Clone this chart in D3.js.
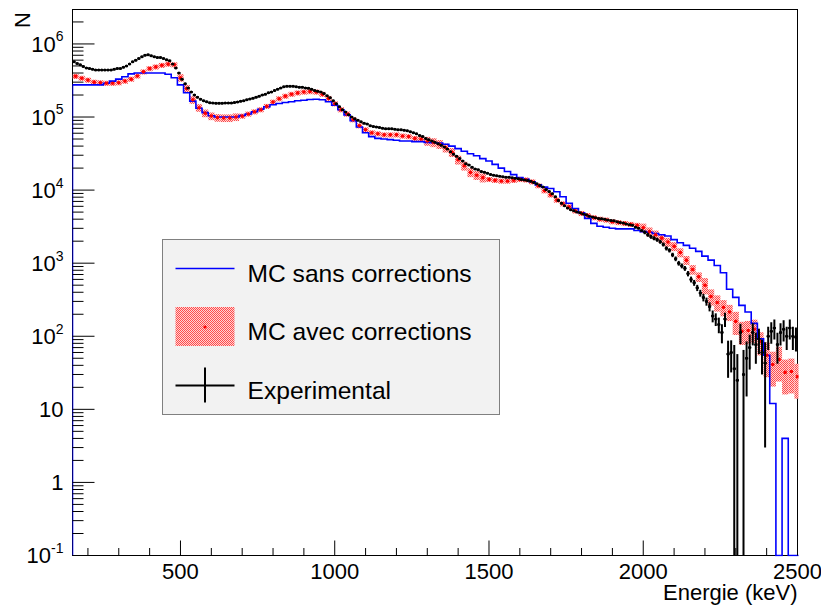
<!DOCTYPE html>
<html>
<head>
<meta charset="utf-8">
<script src="https://cdn.jsdelivr.net/npm/d3@7"></script>
<style>
  body { margin: 0; background: #ffffff; }
  svg { display: block; font-family: "Liberation Sans", Arial, Helvetica, sans-serif; }
</style>
</head>
<body>
<div id="chart"></div>
<script>
// Binning des histogrammes (keV)
const binStart = 150;
const mcBinWidth = 20;
const expBinWidth = 10;

// MC sans corrections (bins de 20 keV a partir de 150 keV)
const mcSans = [
  2.75e5, 2.75e5, 2.75e5, 2.75e5, 2.75e5, 2.9e5, 3.1e5, 3.3e5, 3.55e5, 3.9e5,
  4.0e5, 4.0e5, 4.0e5, 4.0e5, 4.0e5, 3.85e5, 3.45e5,
  2.75e5, 2.15e5, 1.65e5, 1.32e5, 1.15e5, 1.04e5, 1.0e5, 1.0e5, 1.0e5, 1.0e5,
  1.05e5, 1.1e5, 1.18e5, 1.28e5, 1.38e5, 1.47e5, 1.53e5, 1.58e5, 1.62e5, 1.67e5,
  1.7e5, 1.74e5, 1.75e5, 1.72e5, 1.62e5, 1.45e5, 1.26e5, 1.07e5, 8.9e4, 7.3e4,
  6.1e4, 5.4e4, 5.1e4, 5.0e4, 4.9e4, 4.8e4, 4.7e4, 4.7e4, 4.6e4, 4.6e4,
  4.5e4, 4.45e4, 4.4e4, 4.25e4, 4.0e4, 3.7e4, 3.4e4, 3.15e4, 2.95e4, 2.7e4,
  2.5e4, 2.25e4, 2.0e4, 1.8e4, 1.63e4, 1.48e4, 1.4e4, 1.3e4, 1.18e4, 1.1e4,
  1.05e4, 9.5e3, 8.1e3, 6.6e3, 5.6e3, 4.9e3, 4.1e3, 3.5e3, 3.2e3, 3.1e3,
  3.0e3, 2.95e3, 2.95e3, 2.95e3, 2.8e3,
  2.7e3, 2.65e3, 2.55e3, 2.45e3, 2.35e3, 2.1e3, 1.9e3, 1.75e3, 1.6e3, 1.45e3,
  1250, 1100, 930, 740, 440,
  340, 265, 215, 150, 92,
  55, 12, 0, 4, 0, 0
];

// MC avec corrections (bins de 20 keV) et erreur relative
const mcAvec = [
  3.6e5, 3.4e5, 3.2e5, 3.0e5, 2.95e5, 2.9e5, 2.9e5, 2.95e5, 3.1e5, 3.3e5,
  3.65e5, 4.15e5, 4.6e5, 4.85e5, 5.1e5, 5.3e5, 5.2e5,
  3.45e5, 2.45e5, 1.72e5, 1.34e5, 1.13e5, 1.03e5, 9.8e4, 9.7e4, 9.7e4, 1.0e5,
  1.03e5, 1.1e5, 1.18e5, 1.26e5, 1.4e5, 1.6e5, 1.78e5, 1.93e5, 2.05e5, 2.14e5,
  2.2e5, 2.23e5, 2.2e5, 2.05e5, 1.8e5, 1.52e5, 1.26e5, 1.1e5, 9.2e4, 7.6e4,
  6.7e4, 6.1e4, 5.9e4, 5.7e4, 5.7e4, 5.7e4, 5.5e4, 5.4e4, 5.1e4, 5.0e4,
  4.7e4, 4.5e4, 4.25e4, 3.8e4, 3.3e4, 2.6e4, 2.15e4, 1.75e4, 1.6e4, 1.48e4,
  1.4e4, 1.36e4, 1.33e4, 1.33e4, 1.36e4, 1.4e4, 1.38e4, 1.3e4, 1.15e4, 9.8e3,
  8.6e3, 7.3e3, 6.5e3, 5.9e3, 5.2e3, 4.8e3, 4.5e3, 4.2e3, 4.0e3, 3.9e3,
  3.7e3, 3.6e3, 3.5e3, 3.4e3, 3.3e3,
  3.05e3, 2.7e3, 2.45e3, 2.2e3, 1.95e3, 1.7e3, 1.4e3, 1.1e3, 820, 650,
  500, 350, 290, 250, 215,
  160, 117, 120, 125, 84,
  55, 41, 48, 32, 33, 28
];
const mcAvecRelErr = [
  0.08, 0.08, 0.08, 0.08, 0.08, 0.08, 0.08, 0.08, 0.08, 0.08,
  0.08, 0.08, 0.08, 0.08, 0.08, 0.08, 0.08,
  0.12, 0.12, 0.12, 0.12, 0.12, 0.12, 0.12, 0.12, 0.12, 0.12,
  0.08, 0.08, 0.08, 0.08, 0.08, 0.08, 0.08, 0.08, 0.08, 0.08,
  0.08, 0.08, 0.08, 0.08, 0.08, 0.08, 0.08, 0.08, 0.08, 0.08,
  0.08, 0.08, 0.08, 0.08, 0.08, 0.08, 0.08, 0.08, 0.08, 0.08,
  0.14, 0.14, 0.14, 0.14, 0.14, 0.14, 0.14, 0.14, 0.14, 0.14,
  0.08, 0.08, 0.08, 0.08, 0.08, 0.08, 0.08, 0.08, 0.08, 0.08,
  0.08, 0.08, 0.08, 0.08, 0.08, 0.08, 0.08, 0.08, 0.08, 0.08,
  0.08, 0.08, 0.08, 0.08, 0.08,
  0.14, 0.14, 0.14, 0.14, 0.14, 0.14, 0.14, 0.14, 0.15, 0.15,
  0.25, 0.25, 0.25, 0.25, 0.25,
  0.35, 0.35, 0.35, 0.35, 0.35,
  0.5, 0.5, 0.5, 0.5, 0.5, 0.5
];

// Experimental (bins de 10 keV a partir de 150 keV)
const experimental = [
  5.7e5, 5.4e5, 5.2e5, 4.9e5, 4.7e5, 4.6e5, 4.5e5, 4.4e5, 4.4e5, 4.4e5,
  4.4e5, 4.4e5, 4.4e5, 4.5e5, 4.6e5, 4.6e5, 4.8e5, 5.0e5, 5.3e5, 5.7e5,
  6.0e5, 6.3e5, 6.7e5, 7.0e5, 7.1e5, 6.9e5, 6.7e5, 6.5e5, 6.5e5, 6.3e5,
  6.1e5, 5.9e5, 5.3e5, 4.7e5, 4.0e5,
  3.3e5, 2.85e5, 2.5e5, 2.2e5, 2.0e5, 1.87e5, 1.75e5, 1.67e5, 1.62e5, 1.57e5,
  1.55e5, 1.54e5, 1.54e5, 1.54e5, 1.55e5, 1.56e5, 1.56e5, 1.58e5, 1.6e5, 1.64e5,
  1.67e5, 1.72e5, 1.77e5, 1.8e5, 1.87e5, 1.93e5, 2.0e5, 2.05e5, 2.15e5, 2.2e5,
  2.3e5, 2.4e5, 2.5e5, 2.6e5, 2.64e5, 2.64e5, 2.64e5, 2.6e5, 2.55e5, 2.55e5,
  2.5e5, 2.47e5, 2.4e5, 2.3e5, 2.25e5, 2.2e5, 2.1e5, 1.95e5, 1.83e5, 1.67e5,
  1.52e5, 1.38e5, 1.26e5, 1.17e5, 1.07e5, 1.0e5, 9.5e4, 9.0e4, 8.6e4, 8.2e4,
  8.0e4, 7.6e4, 7.4e4, 7.3e4, 7.2e4, 7.0e4, 6.9e4, 6.9e4, 6.9e4, 6.8e4,
  6.7e4, 6.7e4, 6.6e4, 6.5e4, 6.3e4, 6.1e4, 5.9e4, 5.6e4, 5.4e4, 5.1e4,
  4.9e4, 4.7e4, 4.5e4, 4.3e4, 4.1e4, 3.9e4, 3.65e4, 3.35e4, 3.1e4, 2.9e4,
  2.7e4, 2.5e4, 2.3e4, 2.2e4, 2.06e4, 1.95e4, 1.9e4, 1.8e4, 1.75e4, 1.7e4,
  1.63e4, 1.6e4, 1.57e4, 1.55e4, 1.52e4, 1.5e4, 1.5e4, 1.47e4, 1.45e4, 1.43e4,
  1.4e4, 1.38e4, 1.35e4, 1.32e4, 1.27e4, 1.22e4, 1.16e4, 1.1e4, 1.02e4, 9.6e3,
  8.9e3, 8.1e3, 7.2e3, 6.6e3, 6.1e3, 5.7e3, 5.4e3, 5.2e3, 5.0e3, 4.9e3,
  4.7e3, 4.6e3, 4.4e3, 4.3e3, 4.2e3, 4.1e3, 4.05e3, 4.0e3, 3.9e3, 3.85e3,
  3.8e3, 3.7e3, 3.6e3, 3.55e3, 3.45e3, 3.35e3, 3.3e3, 3.1e3, 3.0e3, 2.8e3,
  2.65e3, 2.45e3, 2.3e3, 2.2e3, 2.1e3, 1.97e3, 1.8e3, 1.6e3, 1.5e3, 1.3e3,
  1150, 1000, 920, 850, 720, 600, 540, 460, 390, 340,
  300, 255, 190, 172, 145, 113, 172, 57, 60, 36,
  25, 113, 30, 50, 70, 113, 77, 92, 60, 43,
  100, 117, 130, 77, 113, 125, 100, 130, 100, 97
];
// Erreurs absolues de l'experimental a partir de 2000 keV
const expErrStart = 2000;
const expErrTail = [
  160, 150, 140, 135, 130, 125, 115, 105, 100, 90,
  85, 75, 70, 65, 60, 55, 50, 45, 42, 40,
  38, 36, 35, 34, 35, 33, 38, 30, 28, 40,
  32, 35, 35, 35, 35, 38, 35, 35, 30, 40,
  35, 38, 40, 35, 38, 40, 35, 40, 35, 35
];

const xMajorTicks = [500, 1000, 1500, 2000, 2500];
const yMajorTicks = [0.1, 1, 10, 100, 1e3, 1e4, 1e5, 1e6];
const yTickLabels = [["10", "-1"], ["1", ""], ["10", ""], ["10", "2"], ["10", "3"], ["10", "4"], ["10", "5"], ["10", "6"]];
const legendLabels = ["MC sans corrections", "MC avec corrections", "Experimental"];

// Dimensions
const W = 821, H = 607;
const plotLeft = 72.5, plotRight = 797.5, plotTop = 9.5, plotBottom = 555.5;
const yMin = 0.1;

const x = d3.scaleLinear().domain([150, 2500]).range([plotLeft, plotRight]);
const y = d3.scaleLog().domain([yMin, 2.96e6]).range([plotBottom, plotTop]);
// Les contenus nuls sont ramenes sur le bas du cadre
const yPos = v => v > yMin ? y(v) : plotBottom;

const svg = d3.select("#chart").append("svg")
  .attr("width", W)
  .attr("height", H);

// Motif de remplissage de la bande d'erreur
const defs = svg.append("defs");
const pat = defs.append("pattern")
  .attr("id", "hatch")
  .attr("patternUnits", "userSpaceOnUse")
  .attr("width", 2).attr("height", 2);
pat.append("rect").attr("width", 2).attr("height", 2).attr("fill", "#ffd2d2");
pat.append("rect").attr("width", 1).attr("height", 1).attr("fill", "#ff4a4a");
pat.append("rect").attr("x", 1).attr("y", 1).attr("width", 1).attr("height", 1).attr("fill", "#ff4a4a");

defs.append("clipPath").attr("id", "plotClip")
  .append("rect")
  .attr("x", plotLeft).attr("y", plotTop - 1)
  .attr("width", plotRight - plotLeft + 1).attr("height", plotBottom - plotTop + 2);

// Cadre
svg.append("rect")
  .attr("x", plotLeft).attr("y", plotTop)
  .attr("width", plotRight - plotLeft).attr("height", plotBottom - plotTop)
  .attr("fill", "none").attr("stroke", "#000").attr("stroke-width", 1);

const plot = svg.append("g").attr("clip-path", "url(#plotClip)");

// Bande d'erreur MC avec corrections
plot.append("g").selectAll("rect")
  .data(mcAvec)
  .join("rect")
  .attr("x", (d, i) => x(binStart + i * mcBinWidth))
  .attr("width", x(binStart + mcBinWidth) - x(binStart))
  .attr("y", (d, i) => yPos(d * (1 + mcAvecRelErr[i])))
  .attr("height", (d, i) => Math.max(0, yPos(d * (1 - mcAvecRelErr[i])) - yPos(d * (1 + mcAvecRelErr[i]))))
  .attr("fill", "url(#hatch)");

// Histogramme MC sans corrections
const bluePts = [[x(binStart), plotBottom]];
mcSans.forEach((v, i) => {
  const lo = binStart + i * mcBinWidth;
  bluePts.push([x(lo), yPos(v)], [x(lo + mcBinWidth), yPos(v)]);
});
bluePts.push([x(binStart + mcSans.length * mcBinWidth), plotBottom]);
plot.append("path")
  .attr("d", d3.line()(bluePts))
  .attr("fill", "none")
  .attr("stroke", "#0000ff")
  .attr("stroke-width", 1.6);

// Marqueurs MC avec corrections
plot.append("g").selectAll("circle")
  .data(mcAvec)
  .join("circle")
  .attr("cx", (d, i) => x(binStart + (i + 0.5) * mcBinWidth))
  .attr("cy", d => yPos(d))
  .attr("r", 1.8)
  .attr("fill", "#ff0000");

// Points experimentaux avec barres d'erreur
const errOffset = (expErrStart - binStart) / expBinWidth;
const expG = plot.append("g").attr("stroke", "#000").attr("stroke-width", 2);
experimental.forEach((v, i) => {
  const lo = binStart + i * expBinWidth;
  const cx = x(lo + expBinWidth / 2);
  const cy = yPos(v);
  expG.append("line")
    .attr("x1", x(lo)).attr("x2", x(lo + expBinWidth))
    .attr("y1", cy).attr("y2", cy);
  const e = i >= errOffset ? expErrTail[i - errOffset] : 0;
  if (e > 0) {
    expG.append("line")
      .attr("x1", cx).attr("x2", cx)
      .attr("y1", yPos(v + e)).attr("y2", yPos(v - e));
  }
  expG.append("circle")
    .attr("cx", cx).attr("cy", cy).attr("r", 1.5)
    .attr("fill", "#000").attr("stroke", "none");
});

// Axe X : graduations vers l'interieur
const xMinor = d3.range(200, 2500, 100).filter(v => v % 500 !== 0);
const xAxisG = svg.append("g").attr("transform", `translate(0,${plotBottom})`);
xAxisG.append("g")
  .call(d3.axisBottom(x).tickValues(xMinor).tickSize(-7.5).tickFormat("").offset(0))
  .call(g => g.select(".domain").remove());
xAxisG.append("g")
  .call(d3.axisBottom(x).tickValues(xMajorTicks).tickSize(-15).tickPadding(8).tickFormat(d3.format("d")).offset(0))
  .call(g => g.select(".domain").remove())
  .call(g => g.selectAll("text").attr("font-size", 22).attr("fill", "#000").attr("font-family", null));
xAxisG.selectAll("line").attr("stroke", "#000");

// Axe Y logarithmique
const yMinor = [];
for (let p = -1; p <= 6; p++) {
  for (let k = 2; k <= 9; k++) {
    const v = k * Math.pow(10, p);
    if (v <= 2.96e6) yMinor.push(v);
  }
}
const yAxisG = svg.append("g").attr("transform", `translate(${plotLeft},0)`);
yAxisG.append("g")
  .call(d3.axisLeft(y).tickValues(yMinor).tickSize(-11).tickFormat("").offset(0))
  .call(g => g.select(".domain").remove());
yAxisG.append("g")
  .call(d3.axisLeft(y).tickValues(yMajorTicks).tickSize(-22).tickPadding(9).tickFormat("").offset(0))
  .call(g => g.select(".domain").remove())
  .call(g => g.selectAll("text").each(function(d) {
    const t = d3.select(this)
      .attr("font-size", 22).attr("fill", "#000").attr("font-family", null)
      .attr("dy", "0.36em");
    const lab = yTickLabels[yMajorTicks.indexOf(d)];
    t.append("tspan").text(lab[0]);
    if (lab[1]) t.append("tspan").attr("font-size", 14).attr("dy", "-0.75em").text(lab[1]);
  }));
yAxisG.selectAll("line").attr("stroke", "#000");

// Titres des axes
svg.append("text")
  .attr("x", plotRight).attr("y", 600)
  .attr("text-anchor", "end")
  .attr("font-size", 22)
  .text("Energie (keV)");
svg.append("text")
  .attr("transform", "translate(30,12) rotate(-90)")
  .attr("text-anchor", "end")
  .attr("font-size", 22)
  .text("N");

// Legende
const lg = { x: 162.5, y: 239.5, w: 337, h: 175 };
const legend = svg.append("g");
legend.append("rect")
  .attr("x", lg.x).attr("y", lg.y).attr("width", lg.w).attr("height", lg.h)
  .attr("fill", "#f2f2f2").attr("stroke", "#808080").attr("stroke-width", 1);
const rowY = legendLabels.map((d, i) => lg.y + 29 + i * 58.5);
const symX0 = lg.x + 13, symX1 = lg.x + 72, symXc = (symX0 + symX1) / 2;

legend.append("line")
  .attr("x1", symX0).attr("x2", symX1).attr("y1", rowY[0]).attr("y2", rowY[0])
  .attr("stroke", "#0000ff").attr("stroke-width", 1.5);

legend.append("rect")
  .attr("x", symX0).attr("y", rowY[1] - 20).attr("width", symX1 - symX0).attr("height", 39)
  .attr("fill", "url(#hatch)");
legend.append("circle")
  .attr("cx", symXc).attr("cy", rowY[1]).attr("r", 1.6).attr("fill", "#ff0000");

legend.append("line")
  .attr("x1", symX0).attr("x2", symX1).attr("y1", rowY[2]).attr("y2", rowY[2])
  .attr("stroke", "#000").attr("stroke-width", 2);
legend.append("line")
  .attr("x1", symXc).attr("x2", symXc).attr("y1", rowY[2] - 18).attr("y2", rowY[2] + 17)
  .attr("stroke", "#000").attr("stroke-width", 2);

legend.selectAll("text.lab")
  .data(legendLabels)
  .join("text")
  .attr("class", "lab")
  .attr("x", lg.x + 85)
  .attr("y", (d, i) => rowY[i] + 13)
  .attr("font-size", 24.6)
  .attr("fill", "#000")
  .text(d => d);
</script>
</body>
</html>
